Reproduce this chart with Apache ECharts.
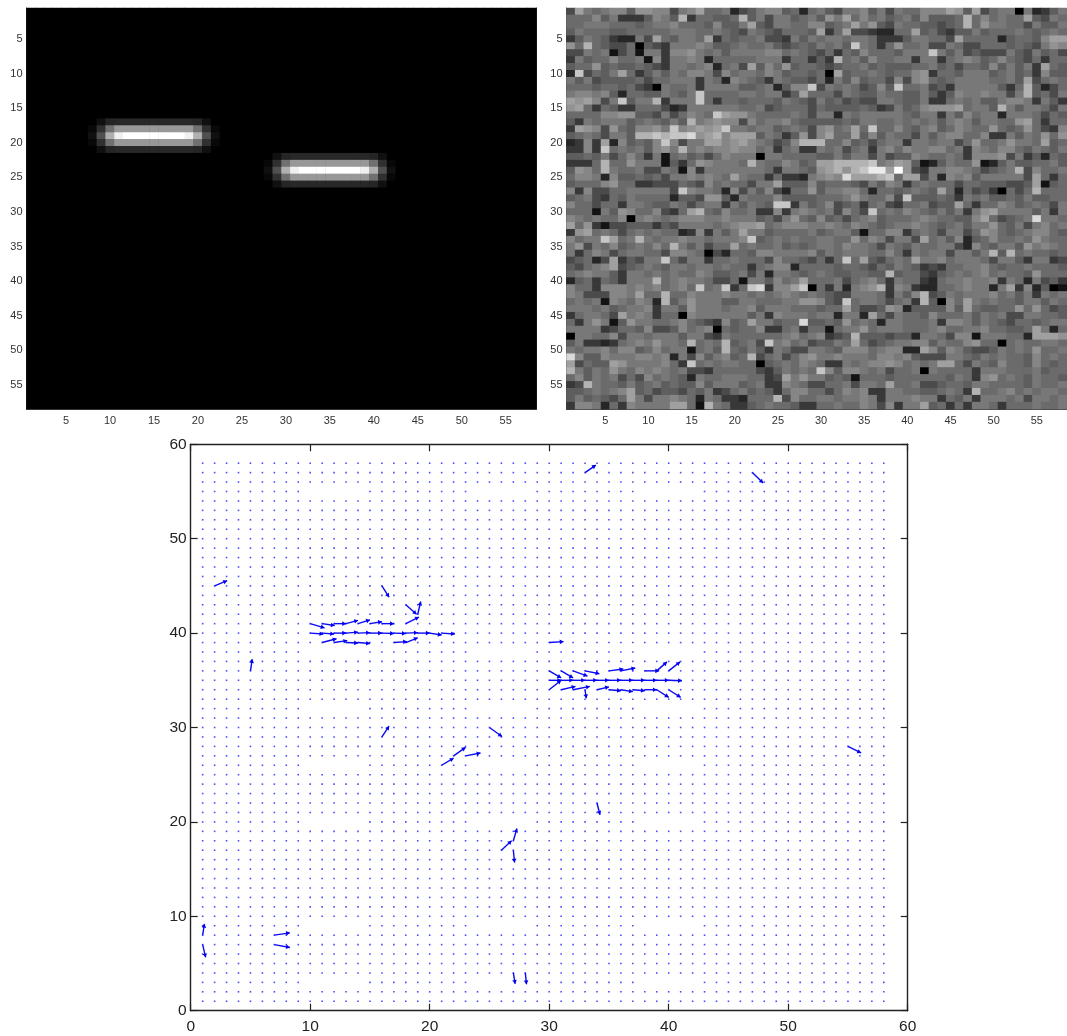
<!DOCTYPE html>
<html>
<head>
<meta charset="utf-8">
<style>html,body{margin:0;padding:0;background:#fff}#c{width:1067px;height:1036px;overflow:hidden}</style>
<script src="https://cdn.jsdelivr.net/npm/echarts@6/dist/echarts.min.js"></script>
</head>
<body>
<div id="c"></div>
<script>
var cellLabels = [];
for (var n = 1; n <= 58; n++) cellLabels.push(String(n));

// left image: the two clean bars, brightness 0-255, 15 columns each
var barFaintRow = [0,16,37,40,40,40,40,40,40,40,40,40,37,16,0];
var barMidRow   = [8,48,112,152,152,152,152,152,152,152,152,152,112,48,8];
var barPeakRow  = [16,80,176,240,255,255,255,255,255,255,255,240,176,80,16];
var barProfile  = [barFaintRow, barMidRow, barPeakRow, barMidRow, barFaintRow];
var barOneRow = 17, barOneCol = 8, barTwoRow = 22, barTwoCol = 28;

// right image: noisy frame, one hex digit per cell (0 black .. f white)
var noiseRows = [
"4a7678859 988478a66 724578856 2675477857 4766888a95 a4677072357",
"666857333 5875b3665 56b574775 67597a6867 567585556b 68676 6a5476",
"667776665 677866658 557a54776 688567a795 476655456b 69776647557",
"576665566 666777667 654765466 65a36a4432 266a564355 75666765676",
"357653227 4a65776a3 656674437 5767767763 3357766 4a6 66625665 8aa",
"96b654460 543777875 567667545 657675c763 6966744764 46665654798",
"447671461 773889767 577778867 6546365866 65777c7574 54447547564",
"375668667 183778726 666677736 6353b67586 6773773678 75686546366",
"566956556 543776782 674a58695 6654566756 5556675646 65857573a65",
"2c4657a63 575768874 867768756 6560a56676 5668936657 77567563855",
"757455556 466777376 287653765 5462758566 4848965677 77667 5a4676",
"666566564 307667377 775567258 8c47676458 5c66745377 77753 6b5246",
"788785266 557657c66 667767735 a666476557 6655753587 78774 7b5647",
"a9a847c57 7b3777c63 665666576 5475645447 7655733676 75578873753",
"9a6365336 664237777 776674566 6465555653 47568999a6 775b7 577647",
"666688995 547468 76c a99766667 6477276777 7765773758 67727776465",
"537677756 76575b789 884867786 5555565776 6767675787 57766 9a6366",
"3a9849658 897c89a9a c77677567 64896 7a6c6 6865785687 66965696438",
"56764775b bcbccd9ab 8aaa57635 948a66a585 7664757886 68337 576969",
"2383a2856 58c8477aa 89a876458 bbb6685646 7737767746 96679776a56",
"3383c6767 5897b7878 898867367 3376746737 8687788673 87688657657",
"556574686 371675646 877707766 6655757747 4558766763 88894735265",
"3336b6697 771536987 776b76687 56aabbbbc7 8a95125766 91257556675",
"5986b7667 447618377 777776377 659ab9bcee af94377887 64567b48667",
"688728556 564778787 6a7663633 27898daaab c6aa472878 57777 74a636",
"566689663 344465486 766477a55 5856665475 8736766646 65554 45a156",
"838446677 7774c8776 284758426 6957788626 656765a626 4530646b666",
"567436576 666255499 527666855 5566679766 84c5556537 67556575566",
"866466377 655764677 375765cc3 7568456367 4366745 5a6 36687567647",
"666175986 68436ab65 866733837 87674864c6 7687657573 79a77775737",
"876766807 876788877 877756479 6585646785 6667876655 8a64567d776",
"a69314455 535477776 7899a6788 8778768765 6778765675 77965747867",
"39a676467 676623837 57a775666 6756775166 8836764774 69865678865",
"8677ca67b 767787767 778c56767 6677669687 4774a67582 56866769766",
"794768567 686b75746 6a6766756 5677687764 7657667742 86577597876",
"736874677 664887604 266588777 7857677766 8637677477 57b5b676656",
"45624a354 77c647736 676664866 54636c6a54 676a778677 76477537734",
"54678a456 765776776 766367882 6666566546 5765343667 78656676665",
"678775377 676766875 567472776 5676556655 b566435676 78676659666",
"256365377 7b6787764 461775867 a666746786 3766326778 77837627453",
"866388878 786786c67 c36cd388a c063727 89b 3873226678 7727a382501",
"874448 87a 66b668777 877676787 6765447776 37 58b45767 77867573767",
"676718768 72b579777 557766677 99854c6776 4673b5086a 76766 577576",
"777675677 837759777 677857776 66566a6445 98255558 5a 65566969645",
"367764a78 736608777 777573877 76772772a6 4766586667 57674477665",
"637971597 766786543 856a77566 d556596762 7766673887 57654665677",
"777734665 844586780 656683367 3661677967 7766678667 78665 56a726",
"077668477 677757743 766666678 678345b555 4552776488 1777662aaa9",
"573323678 79776b676 b5674c786 745576a645 6778857668 96606766776",
"767786885 686771675 b65753764 4776588867 8822a85875 44576769667",
"d85587778 878274857 856b46746 8977877768 8785444776 57676658676",
"a4655a977 77863c676 776605676 8763376788 986767aa64 76586658656",
"b75769768 787674436 666643576 76c8588767 4667076666 37776667566",
"685767464 867652766 7776634a7 9775651666 5666666576 38967657665",
"34b766575 675655857 775673387 6446674776 a667445665 77666657667",
"556767 8a5 645546573 467565368 8664687833 7766556763 b6678676776",
"575654 6a7 477876276 332666b486 6776778737 7787736573 77767477677",
"388726387 777aa61b7 633567665 3366766874 8377a56363 77636667667"
];

// lower panel: quiver grid and the vectors large enough to see
var quiverGridX = cellLabels.map(Number);
var quiverGridY = cellLabels.map(Number);
var faintGapRows = [3,9,20,26,32,38,55];
var faintGapCols = [10,11,12,13,14,24,25,26,27,28,38,39,40,41,42];

var arrowX = [2,16,18,19,18,10,11,12,13,14,15,16,
  10,11,12,13,14,15,16,17,18,19,20,21,
  11,12,13,14,17,18,5,16,
  30,31,32,33,34,35,36,37,38,39,40,
  30,31,32,33,35,36,38,39,40,
  30,31,32,33,34,35,36,37,38,39,40,
  30,25,21,22,23,1,1,7,7,26,27,27,27,28,34,33,47,55];
var arrowY = [45,45,43,42,41,41,41,41,41,41,41,41,
  40,40,40,40,40,40,40,40,40,40,40,40,
  39,39,39,39,39,39,36,29,
  35,35,35,35,35,35,35,35,35,35,35,
  36,36,36,36,36,36,36,36,36,
  34,34,34,34,34,34,34,34,34,34,34,
  39,30,26,27,27,8,7,8,7,17,18,17,4,4,22,57,57,28];
var arrowU = [1.05,.6,.9,.25,1.1,1.2,1.05,1,1,1,1,1,
  1.1,1,1,1,1,1,1,1,1,1,1,1.1,
  1.2,1.1,1,1,1.1,1,.15,.6,
  1,1,1,1,1,1,1,1,1,1,1.1,
  1,1,1.2,1.2,1.2,1.2,1.2,.85,.95,
  1,1.2,1.4,.1,1,1,1,1,1,1,1,
  1.2,1.05,1,1,1.25,.15,.25,1.3,1.3,.85,.3,.1,.15,.1,.25,.9,.9,1.1];
var arrowV = [.55,-1.2,-1,1.35,.7,-.45,-.2,0,.35,.4,.2,0,
  -.1,-.1,0,.1,.05,0,-.05,-.05,.05,0,-.2,-.1,
  .4,.2,-.05,-.1,.1,.5,1.25,1.15,
  0,0,0,0,0,0,0,0,0,0,-.05,
  -.75,-.75,-.55,-.3,.2,.3,0,.95,.95,
  1,.35,.35,-.9,.3,-.1,-.2,-.1,0,-.8,-.8,
  .1,-.95,.75,.9,.3,1.2,-1.35,.25,-.3,1,1.3,-1.3,-1.15,-1.2,-1.25,.8,-1.1,-.7];

var topPanelTicks = function (idx) { return (idx + 1) % 5 === 0; };

var barLookup = {};
barProfile.forEach(function (row, r) {
  row.forEach(function (v, c) {
    barLookup[(barOneCol - 1 + c) + '_' + (barOneRow - 1 + r)] = v;
    barLookup[(barTwoCol - 1 + c) + '_' + (barTwoRow - 1 + r)] = v;
  });
});
var truthData = [];
for (var ty = 0; ty < 58; ty++) for (var tx = 0; tx < 58; tx++) {
  truthData.push([tx, ty, barLookup[tx + '_' + ty] || 0]);
}
var noiseData = [];
noiseRows.forEach(function (s, r) {
  s.replace(/ /g, '').split('').forEach(function (ch, c) {
    noiseData.push([c, r, parseInt(ch, 16)]);
  });
});
var dotData = [];
quiverGridY.forEach(function (y) {
  quiverGridX.forEach(function (x) {
    if (faintGapRows.indexOf(y) >= 0 && faintGapCols.indexOf(x) >= 0) return;
    dotData.push([x, y]);
  });
});
var arrowData = arrowX.map(function (x, i) { return [x, arrowY[i], arrowU[i], arrowV[i]]; });

function renderArrow(params, api) {
  var x = api.value(0), y = api.value(1);
  var a = api.coord([x, y]);
  var b = api.coord([x + api.value(2), y + api.value(3)]);
  var dx = b[0] - a[0], dy = b[1] - a[1];
  var len = Math.sqrt(dx * dx + dy * dy) || 1;
  var ux = dx / len, uy = dy / len;
  var hl = 3.8, hw = 2.3;
  var bx = b[0] - ux * hl, by = b[1] - uy * hl;
  return {
    type: 'group',
    children: [
      { type: 'line', shape: { x1: a[0], y1: a[1], x2: b[0], y2: b[1] },
        style: { stroke: '#0a0af5', lineWidth: 1.4 } },
      { type: 'polygon',
        shape: { points: [[b[0], b[1]], [bx - uy * hw, by + ux * hw], [bx + uy * hw, by - ux * hw]] },
        style: { fill: '#0000f0' } }
    ]
  };
}

var smallAxisText = { fontFamily: 'Liberation Sans', fontSize: 11, color: '#333' };
function catX(grid, pos, withLabels) {
  return {
    type: 'category', gridIndex: grid, position: pos, data: cellLabels, boundaryGap: true,
    axisLine: { show: true, lineStyle: { color: '#444', width: 1 } },
    axisTick: { show: true, inside: true, length: 4, alignWithLabel: true, interval: topPanelTicks,
      lineStyle: { color: '#222', width: 1 } },
    axisLabel: Object.assign({ show: withLabels, interval: topPanelTicks, margin: 6 }, smallAxisText),
    splitLine: { show: false }
  };
}
function catY(grid, pos, withLabels) {
  return {
    type: 'category', gridIndex: grid, position: pos, data: cellLabels, boundaryGap: true, inverse: true,
    axisLine: { show: true, lineStyle: { color: '#444', width: 1 } },
    axisTick: { show: true, inside: true, length: 4, alignWithLabel: true, interval: topPanelTicks,
      lineStyle: { color: '#222', width: 1 } },
    axisLabel: Object.assign({ show: withLabels, interval: topPanelTicks, margin: 4, padding: [2, 0, 0, 0] }, smallAxisText),
    splitLine: { show: false }
  };
}
function valAxis(kind, pos, withLabels) {
  return {
    type: 'value', gridIndex: 2, position: pos, min: 0, max: 60, interval: 10,
    axisLine: { show: true, onZero: false, lineStyle: { color: '#222', width: 1.4 } },
    axisTick: { show: true, inside: true, length: 7, lineStyle: { color: '#222', width: 1.2 } },
    axisLabel: { show: withLabels, fontFamily: 'Liberation Sans', fontSize: 15.5, color: '#222',
      margin: kind === 'x' ? 8 : 4 },
    splitLine: { show: false }
  };
}

var chart = echarts.init(document.getElementById('c'), null, { renderer: 'canvas' });
chart.setOption({
  backgroundColor: '#fff',
  animation: false,
  tooltip: { show: false },
  grid: [
    { left: 26.5, top: 8, width: 510, height: 401, show: true, backgroundColor: '#000', borderWidth: 0 },
    { left: 566.5, top: 8, width: 510, height: 401, show: true, backgroundColor: '#747474', borderWidth: 0 },
    { left: 190.7, top: 444.3, width: 717, height: 566.4 }
  ],
  xAxis: [catX(0, 'bottom', true), catX(0, 'top', false), catX(1, 'bottom', true), catX(1, 'top', false),
          valAxis('x', 'bottom', true), valAxis('x', 'top', false)],
  yAxis: [catY(0, 'left', true), catY(0, 'right', false), catY(1, 'left', true), catY(1, 'right', false),
          valAxis('y', 'left', true), valAxis('y', 'right', false)],
  visualMap: [
    { show: false, seriesIndex: 0, min: 0, max: 255, inRange: { color: ['#000000', '#ffffff'] } },
    { show: false, seriesIndex: 1, min: 0, max: 15, inRange: { color: ['#000000', '#5e5e5e', '#a0a0a0', '#ffffff'] } }
  ],
  series: [
    { type: 'heatmap', xAxisIndex: 0, yAxisIndex: 0, data: truthData, silent: true, progressive: 0,
      itemStyle: { borderWidth: 0 } },
    { type: 'heatmap', xAxisIndex: 2, yAxisIndex: 2, data: noiseData, silent: true, progressive: 0,
      itemStyle: { borderWidth: 0 } },
    { type: 'scatter', xAxisIndex: 4, yAxisIndex: 4, data: dotData, symbol: 'rect', symbolSize: 1.6, silent: true,
      itemStyle: { color: '#0000ff', opacity: 0.7 }, progressive: 0 },
    { type: 'custom', xAxisIndex: 4, yAxisIndex: 4, data: arrowData, renderItem: renderArrow, silent: true,
      encode: { x: 0, y: 1 }, clip: false }
  ]
});
</script>
</body>
</html>
